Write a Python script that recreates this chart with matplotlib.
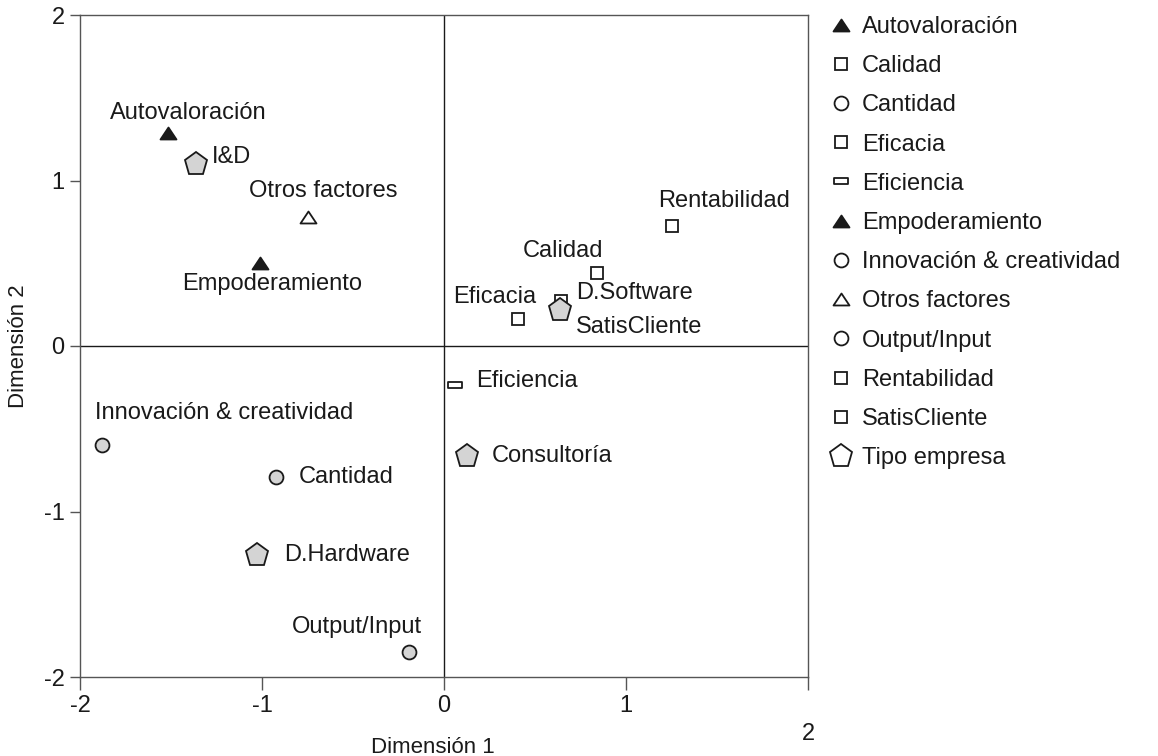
import matplotlib

matplotlib.use("Agg")
import matplotlib.pyplot as plt
import matplotlib.transforms as mtransforms
from matplotlib.lines import Line2D
from matplotlib.path import Path

plt.rcParams["font.family"] = ["Liberation Sans", "DejaVu Sans"]

# category coordinates on the two dimensions
labels = ["Autovaloración", "I&D", "Otros factores", "Empoderamiento",
          "Rentabilidad", "Calidad", "SatisCliente", "D.Software", "Eficacia",
          "Eficiencia", "Consultoría", "Innovación & creatividad", "Cantidad",
          "D.Hardware", "Output/Input"]
dim1 = [-1.516, -1.363, -0.747, -1.011, 1.253, 0.841, 0.643, 0.637, 0.407,
        0.060, 0.126, -1.880, -0.923, -1.027, -0.192]
dim2 = [1.287, 1.100, 0.780, 0.500, 0.725, 0.441, 0.272, 0.218, 0.163,
        -0.236, -0.665, -0.598, -0.790, -1.263, -1.849]
kinds = ["tri_fill", "pent", "tri_open", "tri_fill", "square", "square",
         "square", "pent", "square", "rect", "pent", "circle", "circle",
         "pent", "circle"]

legend_labels = ["Autovaloración", "Calidad", "Cantidad", "Eficacia",
                 "Eficiencia", "Empoderamiento", "Innovación & creatividad",
                 "Otros factores", "Output/Input", "Rentabilidad",
                 "SatisCliente", "Tipo empresa"]
legend_kinds = ["tri_fill", "square", "circle_open", "square", "rect",
                "tri_fill", "circle_open", "tri_open", "circle_open",
                "square", "square", "pent_open"]

ticks = [-2, -1, 0, 1, 2]

# label offsets (pixels) of each text from its point, left edge / v-center
label_dx = [-58, 16, -59, -78, -14, -74, 15, 16, -65, 21, 25, -7, 23, 27, -117]
label_dy = [20, 7, 26, -21, 25, 22, -26, 17, 22, 4, 0, 32, 0, 0, 25]

EDGE = "#1a1a1a"
GRAY = "#d4d4d4"
tri = Path([(-1, -0.75), (1, -0.75), (0, 0.75), (-1, -0.75)],
           [Path.MOVETO, Path.LINETO, Path.LINETO, Path.CLOSEPOLY])
flat = Path([(-1, -0.45), (1, -0.45), (1, 0.45), (-1, 0.45), (-1, -0.45)],
            [Path.MOVETO, Path.LINETO, Path.LINETO, Path.LINETO, Path.CLOSEPOLY])

styles = {
    "tri_fill": dict(marker=tri, ms=11.5, mfc=EDGE, mec=EDGE),
    "tri_open": dict(marker=tri, ms=11.5, mfc="white", mec=EDGE),
    "square": dict(marker="s", ms=8, mfc="white", mec=EDGE),
    "rect": dict(marker=flat, ms=10, mfc="white", mec=EDGE),
    "circle": dict(marker="o", ms=10, mfc=GRAY, mec=EDGE),
    "circle_open": dict(marker="o", ms=10, mfc="white", mec=EDGE),
    "pent": dict(marker="p", ms=17, mfc=GRAY, mec=EDGE),
    "pent_open": dict(marker="p", ms=17, mfc="white", mec=EDGE),
}

fig = plt.figure(figsize=(11.58, 7.56), dpi=100)
ax = fig.add_axes([80 / 1158, 79 / 756, 728 / 1158, 662 / 756])

ax.axhline(0, color=EDGE, lw=1.0, zorder=1)
ax.axvline(0, color=EDGE, lw=1.0, zorder=1)

for x, y, k in zip(dim1, dim2, kinds):
    ax.plot([x], [y], ls="none", mew=1.3, zorder=3, **styles[k])

for x, y, name, dx, dy in zip(dim1, dim2, labels, label_dx, label_dy):
    ax.annotate(name, (x, y), xytext=(dx, dy), textcoords="offset pixels",
                ha="left", va="center", fontsize=17, color=EDGE)

ax.set_xlim(-2, 2)
ax.set_ylim(-2, 2)
ax.set_xticks(ticks)
ax.set_yticks(ticks)
ax.set_xticklabels([str(t) for t in ticks])
ax.set_yticklabels([str(t) for t in ticks])
ax.tick_params(axis="x", length=9, width=1, pad=4, labelsize=17,
               color="#555555", labelcolor=EDGE)
ax.tick_params(axis="y", length=7, width=1, pad=4, labelsize=17,
               color="#555555", labelcolor=EDGE)
for s in ax.spines.values():
    s.set_color("#555555")
    s.set_linewidth(1.0)

# the last x tick label sits lower than the others
last = ax.get_xticklabels()[-1]
last.set_transform(last.get_transform() +
                   mtransforms.ScaledTranslation(0, -0.28, fig.dpi_scale_trans))

ax.set_xlabel("Dimensión 1", fontsize=16, color=EDGE)
ax.set_ylabel("Dimensión 2", fontsize=16, color=EDGE)
ax.xaxis.set_label_coords(0.485, -0.106)
ax.xaxis.label.set_va("center")
ax.yaxis.set_label_coords(-0.085, 0.5)
ax.yaxis.label.set_va("center")

handles = [Line2D([], [], ls="none", mew=1.3, **styles[k]) for k in legend_kinds]
fig.legend(handles, legend_labels, loc="upper left",
           bbox_to_anchor=(817 / 1158, 1 - 4 / 756), frameon=False,
           fontsize=17, handlelength=1.0, handletextpad=0.4,
           labelspacing=0.73, borderpad=0.0, labelcolor=EDGE)

fig.savefig("out.png", dpi=100)
plt.close(fig)
